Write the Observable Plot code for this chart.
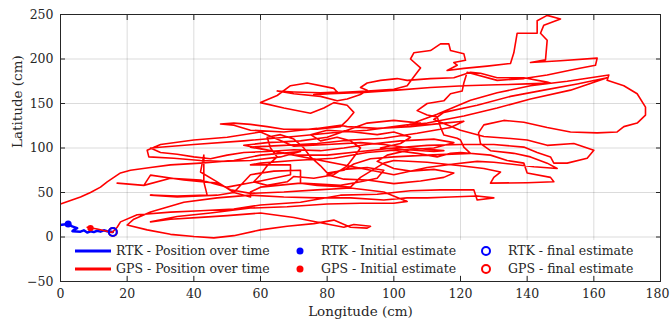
<!DOCTYPE html>
<html>
<head>
<meta charset="utf-8">
<script src="https://cdn.jsdelivr.net/npm/d3@7"></script>
<script src="https://cdn.jsdelivr.net/npm/@observablehq/plot@0.6"></script>
<style>
  html, body { margin: 0; padding: 0; background: white; }
  #chart { width: 670px; height: 327px; }
</style>
</head>
<body>
<div id="chart"></div>
<script>
// Axis ticks
const xTicks = [0, 20, 40, 60, 80, 100, 120, 140, 160, 180];
const yTicks = [-50, 0, 50, 100, 150, 200, 250];

// RTK track (longitude cm, latitude cm)
const rtkLon = [-1, 1, 2.3, 3.5, 5, 4, 3.6, 6, 7, 8, 9, 10, 11, 12, 13, 14, 15.7];
const rtkLat = [13, 14, 14.6, 12, 10, 8, 6.5, 6, 7.5, 5, 6.5, 5.5, 7, 6, 7.5, 6.5, 5.6];

// GPS track (longitude cm, latitude cm), in three pieces
const gpsLonMain = [8,11,15.5,17,18,23,33,42,52,60,72,84,95,105,114,124,125,130,125,117,110,104,97,87,77,67,57,47,37,27,22,20,26,33,40,46,52,60,68,76,82,87,92,93,88,85,78,70,60,50,42,33,27,35,45,57,68,80,90,100,104,
97,87,77,67,57,51,47,37,27,25,17,25,33,42,50,60,69,69,57,60,70,82,92,100,107,113,117,120,129,134,139,140,147,148,140,129,130,132,127,120,110,100,97,90,87,77,72,72,64,57,52,47,35,27,35,44,43,43,42,47,52,57,57,60,72,84,90,
95,97,92,85,80,85,92,100,108,115,118,112,105,100,95,98,105,112,118,112,102,92,85,78,70,62,55,50,45,40,35,30,27,40,55,70,84,92,100,108,100,92,86,80,72,62,55,
100,110,118,125,130,142,149,146,141,136,129,126,125.4,127,133,139,146,153,161,167,169,173,175.5,175.5,173,169,164,164.5,152,141,131,123,113,104,110,121,131,141,153,164,155,145,135,125,115,112,120,127,134,140,146,154,160,158,152,148,147,143,139,130,120,110,100,90,80,70,
57,67,77,87,97,107,117,121,115,105,95,86,84,77,67,57,52,48,52,57,62,67,77,84,86,88,86,82,79,75,67,60,65,69,74,82,83,78,70,65,70,78,83,86,90,92,90,92,96,101,104,111,118,123,126,131,139,146,147,140,131,121,111,101,91,81,76,82,92,100,104,106,108,105,106,111,114,116.5,117,121,121.5,118,119,116,121,128,135,136,137,143,143,146,150,145,144,146,145.5,141,150,161,160.5,155,146,139,131,122,121,120.5,117,115,110,107,110,113,114,115,119,120,121,123];
const gpsLatMain = [11,9,5,11,17,25,28,29.5,31.5,36,39,47,48,52,53,53,41.5,44,46,45,44,44,41.5,44,44,45,47,44,39,28,20,13.5,8,3,0.5,-1,1.5,8,12,15,19,11,10,12,14,11,16,22,27,24,22,20,17,23,27,32.5,34,37,38,38,40,
50.5,55,53,50.5,49,53,60.5,64,69.5,58,60.5,58,66,64,56,63,70,81,81,83,86,88.5,95,97.5,94,90,94,95,92,86,83,72,67,62,61,60.5,67,73,77,80,84,86,83,67,56,58,60.5,75,74,70,50,47,45,47,46,47,62,92,73,62,50,45,50.5,56,60.5,58,62,
66,75,78,76,70,65,64,60,63,67,72,76,74,77,85,92,98,100,106,110,108,104,100,97,98,96,95,92,88,90,93,95,100,104,108,113,118,120,124,128,131,128,120,112,108,106,103,
70,78,82,85,84,79,77,83,90,94,97,105,117,126,131,129,123,118,117,118,124,128,137,146,161,170,176,182,175,170,162,153.6,138,125.5,128,136,145,155,165,179,172,165,158,148,140,132,120,113,111,109,103,105,97.5,88.5,83,83,90,95,101,104,104,103,100,96,92,92,
101,103,105,109,111,116.5,123,130,128,124,122,124,125.5,122,118,120,125.5,127,128,126.5,124,121,121,124,131,140,148,151,145,139,145,151,159,170,173,167,163,162,163,164,161,158,153,155,160,165,168,173,176,178,176,178,179,185,184,179,179,174,173,172,171,170,168,165,162.5,161,160,162,164,166,170,180,190,200,207,209.5,217,217,209.5,206,198.5,196,193,187,189.5,192,195,207,229,229,243,249,245,238,229,221,199,196,198,201,193,189,182,178,176,185,173,164,161,153,150,142,137,135,123.5,114.6,111,109,101,94];
const gpsLonMid = [110,100,93,88,85,80,78,75,73,70,66,62,63,65,62,60,58,62,68,70,76,82,86,88,90,87,83,78,75,80,88,95,100,105,102,96,104,112];
const gpsLatMid = [92,90,88,82,75,72,80,90,100,110,115,112,100,90,80,70,62,58,62,68,66,70,80,90,100,108,112,108,115,120,118,115,118,112,105,100,98,96];
const gpsLonEnd = [115,105,97,90,80,70,60,50,40,30,26,26.5,34,42,48,57,66,72,66,60,52,42,33,27,21,18,16,14,12,9,6,3,0,-3];
const gpsLatEnd = [97,100,104,106,104,102,118,112,109,104,97.5,90,88.5,86,85,86,90,96,94,92,86,83,81,78,75,72,67,62,56,50,45,41,37,33];

// Estimates
const rtkInitLon = [2.3], rtkInitLat = [14.6];
const gpsInitLon = [9], gpsInitLat = [10];
const rtkFinalLon = [15.7], rtkFinalLat = [5.6];
const gpsFinalLon = [15.7], gpsFinalLat = [5.6];

// Legend entries
const legendLabels = [
  ["RTK - Position over time", "RTK - Initial estimate", "RTK - final estimate"],
  ["GPS - Position over time", "GPS - Initial estimate", "GPS - final estimate"]
];
const legendColors = ["#0000ff", "#ff0000"];

const gpsLon = [...gpsLonMain, ...gpsLonMid, ...gpsLonEnd];
const gpsLat = [...gpsLatMain, ...gpsLatMid, ...gpsLatEnd];
const gps = gpsLon.map((x, i) => ({x, y: gpsLat[i]}));
const rtk = rtkLon.map((x, i) => ({x, y: rtkLat[i]}));
const pts = (xs, ys) => xs.map((x, i) => ({x, y: ys[i]}));
const lastX = xTicks[xTicks.length - 1];

const ink = "#262626";
const chart = Plot.plot({
  width: 670,
  height: 327,
  marginLeft: 60,
  marginRight: 10,
  marginTop: 14,
  marginBottom: 46,
  style: {fontFamily: "DejaVu Serif", fontSize: "12.5px", color: ink, background: "white"},
  x: {domain: [0, 180]},
  y: {domain: [-50, 250]},
  marks: [
    Plot.gridX(xTicks, {stroke: "#000", strokeOpacity: 0.14}),
    Plot.gridY(yTicks, {stroke: "#000", strokeOpacity: 0.14}),
    Plot.line(rtk, {x: "x", y: "y", stroke: "#0000ff", strokeWidth: 2.5, clip: true}),
    Plot.line(gps, {x: "x", y: "y", stroke: "#ff0000", strokeWidth: 1.6, clip: true}),
    Plot.dot(pts(gpsInitLon, gpsInitLat), {x: "x", y: "y", r: 3.2, fill: "#ff0000"}),
    Plot.dot(pts(gpsFinalLon, gpsFinalLat), {x: "x", y: "y", r: 4, stroke: "#ff0000", strokeWidth: 2}),
    Plot.dot(pts(rtkInitLon, rtkInitLat), {x: "x", y: "y", r: 3.5, fill: "#0000ff"}),
    Plot.dot(pts(rtkFinalLon, rtkFinalLat), {x: "x", y: "y", r: 4, stroke: "#0000ff", strokeWidth: 2}),
    Plot.frame({stroke: ink}),
    Plot.axisX(xTicks, {anchor: "bottom", tickSize: -5, tickPadding: 13, label: null, stroke: ink,
      tickFormat: d => d === lastX ? "" : String(d)}),
    Plot.text([lastX], {x: d => d, frameAnchor: "bottom", lineAnchor: "top", dy: 8, dx: -3, fill: ink}),
    Plot.axisX(xTicks, {anchor: "top", tickSize: -5, tickFormat: () => "", label: null, stroke: ink}),
    Plot.axisY(yTicks, {anchor: "left", tickSize: -5, tickPadding: 12, label: null, stroke: ink}),
    Plot.axisY(yTicks, {anchor: "right", tickSize: -5, tickFormat: () => "", label: null, stroke: ink}),
    Plot.text(["Longitude (cm)"], {frameAnchor: "bottom", dy: 34, fontSize: 13.5, fill: ink}),
    Plot.text(["Latitude (cm)"], {frameAnchor: "left", rotate: -90, dx: -43, fontSize: 13.5, fill: ink})
  ]
});

document.getElementById("chart").appendChild(chart);

// Legend (inside the plot area, bottom)
const svg = d3.select(chart);
const lg = svg.append("g").attr("font-family", "DejaVu Serif").attr("font-size", 12.5)
  .attr("fill", ink).attr("text-anchor", "start");
lg.append("rect").attr("x", 63).attr("y", 240).attr("width", 594).attr("height", 35).attr("fill", "white");
const rowsY = [251, 269];
legendLabels.forEach((labels, r) => {
  const y = rowsY[r];
  const c = legendColors[r];
  lg.append("line").attr("x1", 75).attr("x2", 111).attr("y1", y).attr("y2", y).attr("stroke", c).attr("stroke-width", 3);
  lg.append("text").attr("x", 116).attr("y", y).attr("dy", "0.35em").attr("text-anchor", "start").text(labels[0]);
  lg.append("circle").attr("cx", 300).attr("cy", y).attr("r", 3.5).attr("fill", c);
  lg.append("text").attr("x", 321).attr("y", y).attr("dy", "0.35em").attr("text-anchor", "start").text(labels[1]);
  lg.append("circle").attr("cx", 486).attr("cy", y).attr("r", 4).attr("fill", "none").attr("stroke", c).attr("stroke-width", 2);
  lg.append("text").attr("x", 508).attr("y", y).attr("dy", "0.35em").attr("text-anchor", "start").text(labels[2]);
});
</script>
</body>
</html>
